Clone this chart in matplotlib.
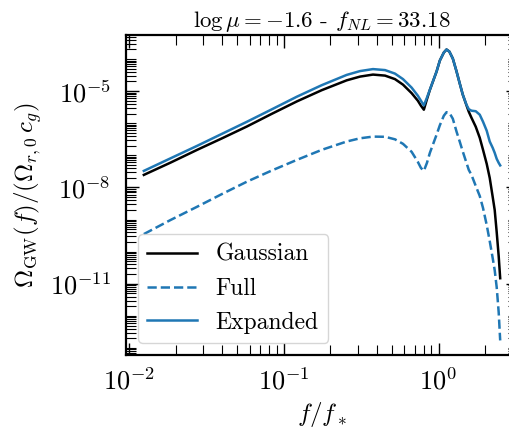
import numpy as np
import matplotlib
matplotlib.use("Agg")
import matplotlib.pyplot as plt
from matplotlib import ticker

plt.rcParams["font.family"] = "serif"
plt.rcParams["font.serif"] = ["cmr10", "DejaVu Serif"]
plt.rcParams["mathtext.fontset"] = "cm"
plt.rcParams["axes.formatter.use_mathtext"] = True
plt.rcParams["axes.unicode_minus"] = True

# frequency grid f/f_* (log10)
log_f = [-1.906, -1.734, -1.561, -1.400, -1.239, -1.077, -0.916, -0.755,
         -0.594, -0.508, -0.424, -0.346, -0.282, -0.230, -0.174, -0.134,
         -0.114, -0.095, -0.075, -0.056, -0.0129, 0.0084, 0.0342, 0.0516,
         0.0697, 0.0923, 0.1161, 0.1374, 0.1568, 0.1806, 0.1955, 0.2129,
         0.2406, 0.2665, 0.2877, 0.3116, 0.3310, 0.3503, 0.3632, 0.3761,
         0.3890, 0.3987]

# log10 of Omega_GW / (Omega_r0 c_g)
log_gauss = [-7.609, -7.228, -6.828, -6.469, -6.100, -5.703, -5.319, -4.969,
             -4.663, -4.547, -4.484, -4.516, -4.625, -4.797, -5.063, -5.297,
             -5.453, -5.578, -5.250, -4.960, -4.391, -4.047, -3.797, -3.703,
             -3.766, -3.984, -4.381, -4.766, -5.109, -5.440, -5.641, -5.828,
             -6.109, -6.453, -6.828, -7.266, -7.703, -8.297, -8.703, -9.391,
             -10.141, -10.828]

log_full = [-9.453, -9.016, -8.600, -8.203, -7.819, -7.469, -7.141, -6.828,
            -6.569, -6.469, -6.416, -6.422, -6.500, -6.641, -6.891, -7.203,
            -7.391, -7.484, -7.234, -6.922, -6.359, -6.063, -5.766, -5.656,
            -5.672, -5.859, -6.256, -6.578, -6.881, -7.234, -7.453, -7.609,
            -7.953, -8.266, -8.641, -9.172, -9.672, -10.203, -10.578, -11.109,
            -11.891, -12.766]

log_expanded = [-7.484, -7.094, -6.703, -6.328, -5.953, -5.563, -5.172, -4.813,
                -4.494, -4.375, -4.313, -4.344, -4.453, -4.625, -4.891, -5.141,
                -5.297, -5.444, -5.203, -4.953, -4.391, -4.047, -3.797, -3.703,
                -3.766, -3.984, -4.381, -4.766, -5.109, -5.422, -5.563, -5.609,
                -5.625, -5.734, -5.953, -6.234, -6.569, -6.766, -6.922, -7.109,
                -7.234, -7.313]

y_ticks = [1e-11, 1e-8, 1e-5]

f = 10.0 ** np.array(log_f)
gauss = 10.0 ** np.array(log_gauss)
full = 10.0 ** np.array(log_full)
expanded = 10.0 ** np.array(log_expanded)

fig = plt.figure(figsize=(5.1, 4.28), dpi=100)
ax = fig.add_axes([0.2471, 0.1706, 0.7686, 0.7477])

blue = "#1f77b4"
ax.plot(f, gauss, color="black", lw=1.8, label="Gaussian")
ax.plot(f, full, color=blue, lw=1.8, ls="--", label="Full")
ax.plot(f, expanded, color=blue, lw=1.8, label="Expanded")

ax.set_xscale("log")
ax.set_yscale("log")

ax.yaxis.set_major_locator(ticker.FixedLocator(y_ticks))
ax.yaxis.set_major_formatter(ticker.LogFormatterSciNotation())
ax.yaxis.set_minor_locator(ticker.LogLocator(base=10, subs=np.arange(1, 10), numticks=100))
ax.yaxis.set_minor_formatter(ticker.NullFormatter())
ax.xaxis.set_minor_locator(ticker.LogLocator(base=10, subs=np.arange(2, 10), numticks=100))
ax.xaxis.set_minor_formatter(ticker.NullFormatter())

ax.tick_params(which="both", direction="in", top=True, right=True, labelsize=19)
ax.tick_params(which="major", length=9, width=1.0)
ax.tick_params(which="minor", length=7.5, width=0.8)
ax.tick_params(axis="x", which="major", pad=9)
ax.tick_params(axis="y", which="major", pad=11)
for s in ax.spines.values():
    s.set_linewidth(1.6)

ax.set_xlabel(r"$f/f_*$", fontsize=18)
ax.set_ylabel(r"$\Omega_{\rm GW}(f)/(\Omega_{r,0}\,c_g)$", fontsize=18)
ax.set_title(r"$\log\mu=-1.6$ - $f_{NL}=33.18$", fontsize=16.5, pad=6)

ax.legend(loc="lower left", fontsize=17, handlelength=2.1)

fig.savefig("out.png", dpi=100)
